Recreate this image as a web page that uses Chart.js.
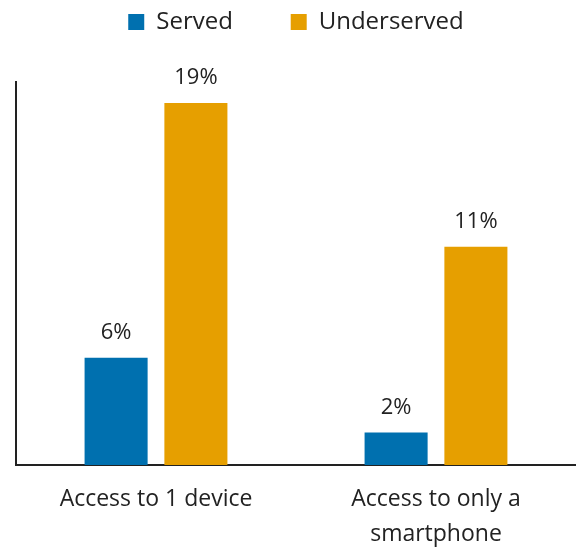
<!DOCTYPE html>
<html lang="en">
<head>
    <meta charset="UTF-8">
    <title>Device access</title>
    <script src="https://cdn.jsdelivr.net/npm/chart.js"></script>
    <style>
        html, body { margin: 0; padding: 0; background: #fff; }
        #wrap { width: 576px; height: 548px; }
    </style>
</head>
<body>
    <div id="wrap"><canvas id="accessChart"></canvas></div>
    <script>
        const categories = [['Access to 1 device'], ['Access to only a', 'smartphone']];
        const served = [5.6, 1.7];
        const underserved = [18.9, 11.4];
        const servedLabels = ['6%', '2%'];
        const underservedLabels = ['19%', '11%'];

        const FONT = "'Open Sans', sans-serif";

        // write the % text above each bar
        const barLabels = {
            id: 'barLabels',
            afterDatasetsDraw(chart) {
                const ctx = chart.ctx;
                ctx.save();
                ctx.font = '22px ' + FONT;
                ctx.fillStyle = '#222';
                ctx.textAlign = 'center';
                ctx.textBaseline = 'middle';
                chart.data.datasets.forEach((ds, i) => {
                    chart.getDatasetMeta(i).data.forEach((bar, j) => {
                        ctx.fillText(ds.labelsText[j], bar.x, bar.y - 25);
                    });
                });
                ctx.restore();
            }
        };

        // extra room between legend and plot
        const legendGap = {
            id: 'legendGap',
            beforeInit(chart) {
                const fit = chart.legend.fit;
                chart.legend.fit = function () {
                    fit.bind(chart.legend)();
                    this.height += 38;
                };
            }
        };

        const ctx = document.getElementById('accessChart').getContext('2d');
        new Chart(ctx, {
            type: 'bar',
            data: {
                labels: categories,
                datasets: [
                    { label: 'Served', data: served, labelsText: servedLabels, backgroundColor: '#0070AF' },
                    { label: 'Underserved', data: underserved, labelsText: underservedLabels, backgroundColor: '#E69F00' }
                ]
            },
            options: {
                responsive: true,
                maintainAspectRatio: false,
                animation: false,
                layout: { padding: { left: 16, right: 0, top: 2, bottom: 0 } },
                datasets: { bar: { categoryPercentage: 0.57, barPercentage: 0.79 } },
                plugins: {
                    legend: {
                        position: 'top',
                        labels: {
                            font: { family: FONT, size: 24 },
                            color: '#222',
                            boxWidth: 16,
                            boxHeight: 16,
                            padding: 8,
                            generateLabels(chart) {
                                const items = Chart.defaults.plugins.legend.labels.generateLabels(chart);
                                items.forEach((it, i) => {
                                    if (i < items.length - 1) it.text = it.text + '        ';
                                });
                                return items;
                            }
                        }
                    },
                    tooltip: { enabled: false }
                },
                scales: {
                    x: {
                        grid: { display: false, drawTicks: false },
                        border: { display: true, color: '#222', width: 2 },
                        afterFit(scale) { scale.height = 83; },
                        ticks: {
                            font: { family: FONT, size: 23, lineHeight: 1.52 },
                            color: '#222',
                            padding: 17,
                            maxRotation: 0
                        }
                    },
                    y: {
                        min: 0,
                        max: 20,
                        grid: { display: false, drawTicks: false },
                        border: { display: true, color: '#222', width: 2 },
                        ticks: { display: false }
                    }
                }
            },
            plugins: [barLabels, legendGap]
        });
    </script>
</body>
</html>
